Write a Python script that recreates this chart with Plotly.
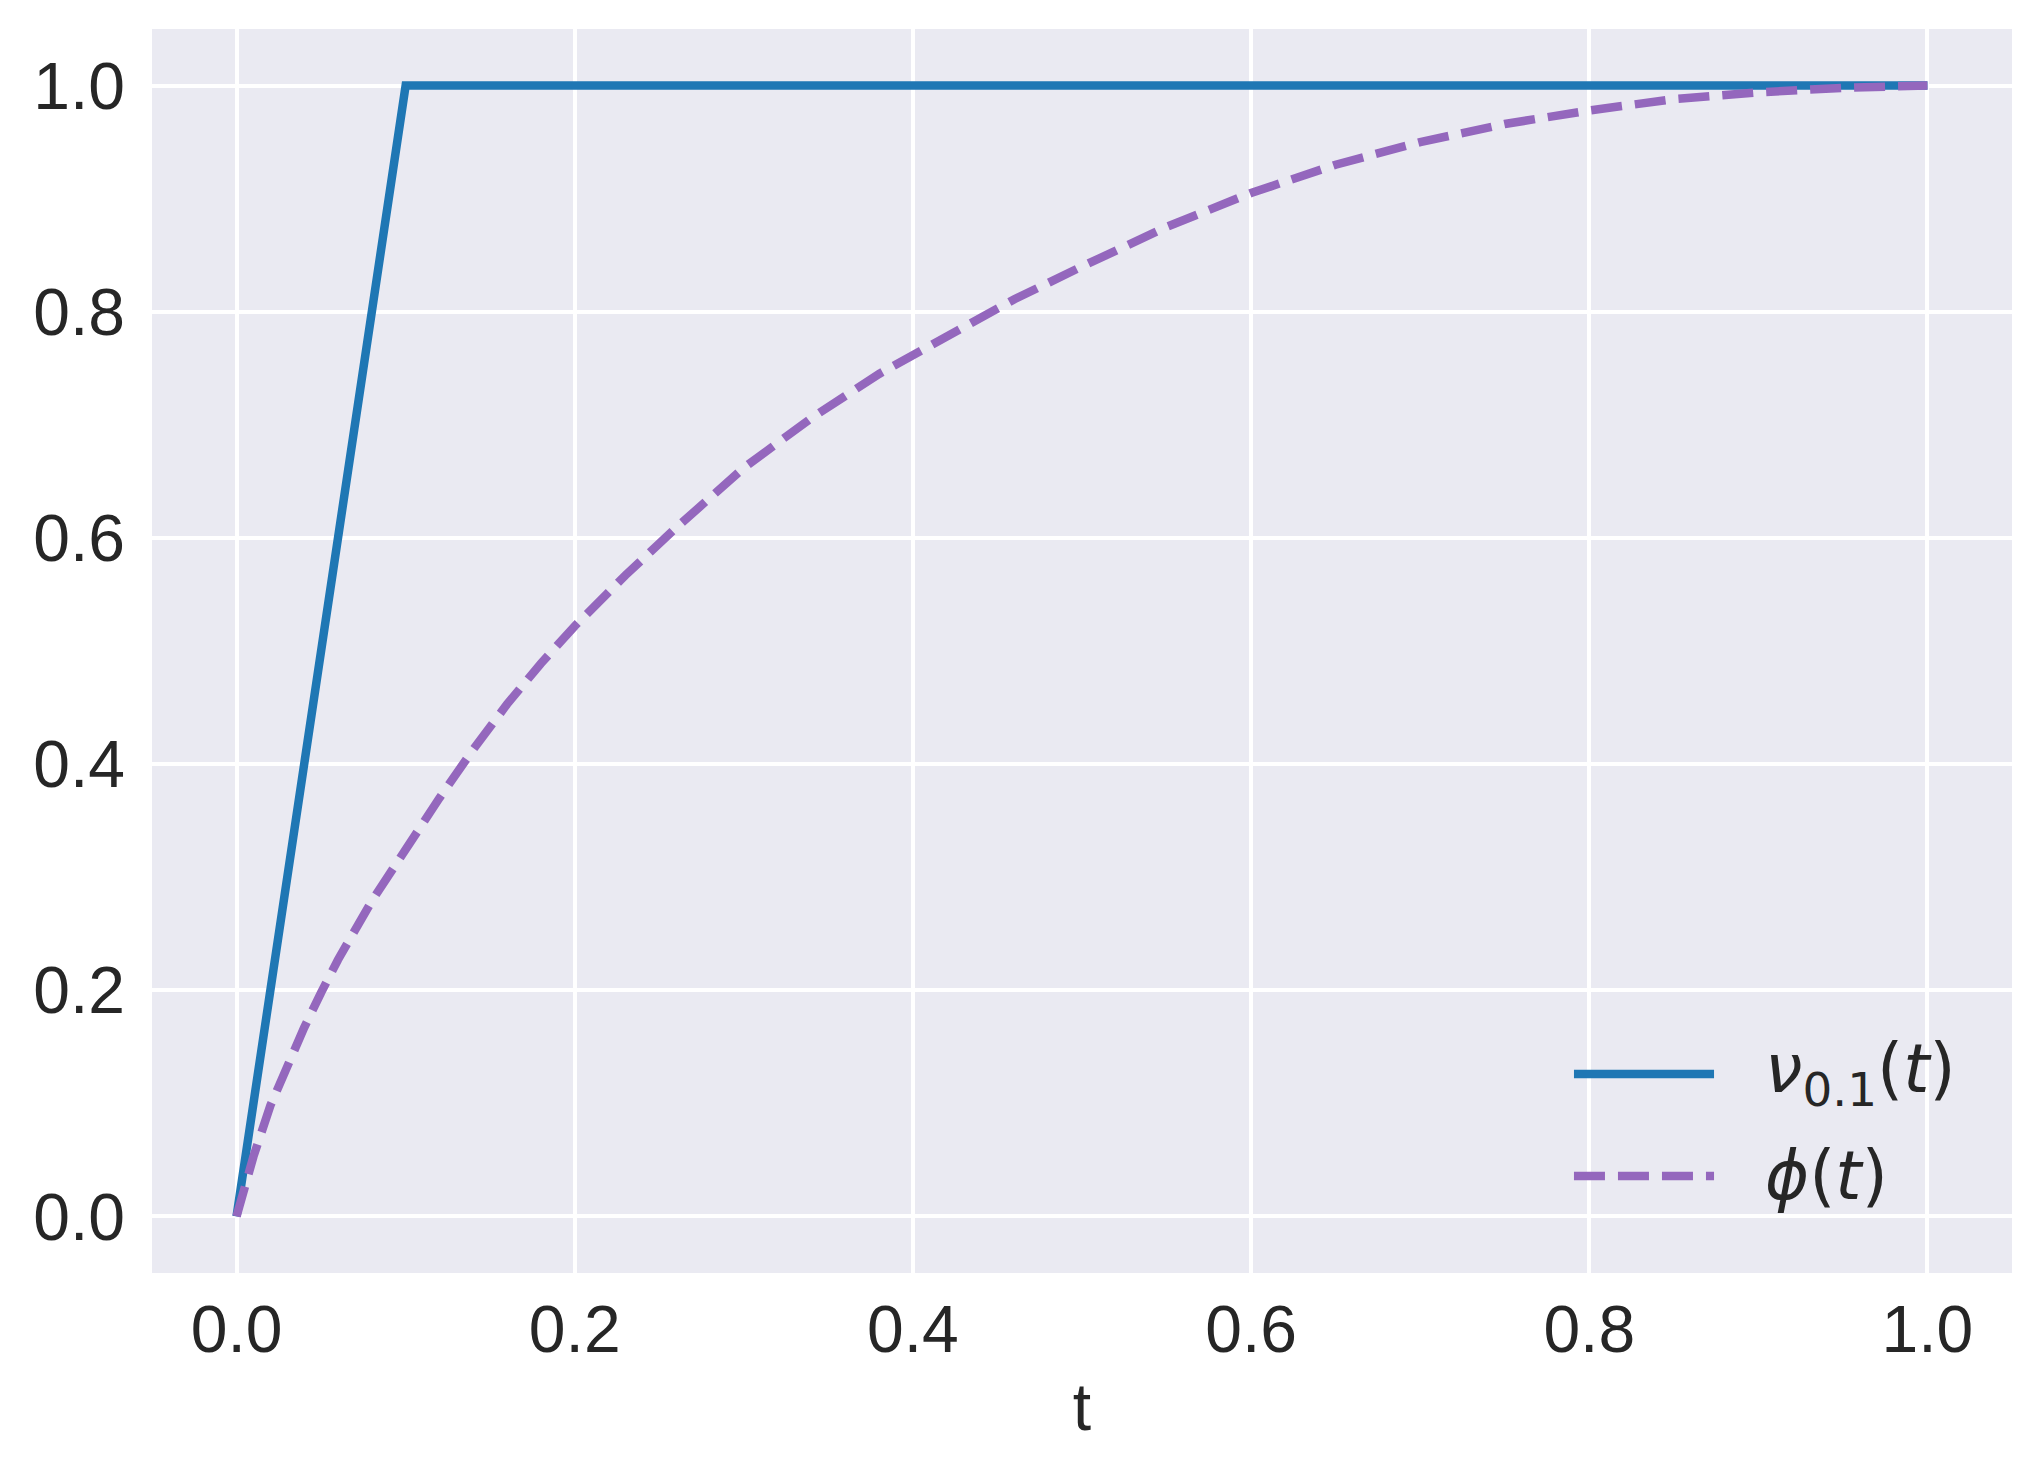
import plotly.graph_objects as go

# ---- data ----
t_nu = [0.0, 0.1, 1.0]
nu_vals = [0.0, 1.0, 1.0]

t_phi = [0.0, 0.005, 0.01, 0.02, 0.03, 0.04, 0.05, 0.06, 0.08, 0.10, 0.12, 0.14,
         0.16, 0.18, 0.20, 0.23, 0.26, 0.30, 0.34, 0.38, 0.42, 0.46, 0.50, 0.55,
         0.60, 0.65, 0.70, 0.75, 0.80, 0.85, 0.90, 0.95, 1.00]
phi_vals = [0.0, 0.029, 0.053, 0.098, 0.133, 0.167, 0.198, 0.227, 0.279, 0.326, 0.370, 0.413,
            0.453, 0.489, 0.522, 0.567, 0.609, 0.662, 0.706, 0.745, 0.779, 0.811, 0.840, 0.875,
            0.905, 0.930, 0.950, 0.966, 0.978, 0.988, 0.994, 0.998, 1.000]

tick_vals = [0.0, 0.2, 0.4, 0.6, 0.8, 1.0]
tick_text = ["0.0", "0.2", "0.4", "0.6", "0.8", "1.0"]

series_names = ["<i>ν</i><sub>0.1</sub>(<i>t</i>)", "<i>ϕ</i>(<i>t</i>)"]
BLUE = "#1f77b4"
PURPLE = "#9467bd"
DASH = "31px,13px"

fig = go.Figure()
fig.add_trace(go.Scatter(x=t_nu, y=nu_vals, mode="lines", name=series_names[0],
                         line=dict(color=BLUE, width=8.5), showlegend=False))
fig.add_trace(go.Scatter(x=t_phi, y=phi_vals, mode="lines", name=series_names[1],
                         line=dict(color=PURPLE, width=8.5, dash=DASH),
                         showlegend=False))

# manual legend (matplotlib-like long line samples)
leg = [(0.16, BLUE, "solid", series_names[0]), (0.078, PURPLE, DASH, series_names[1])]
for yy, col, dash, label in leg:
    fig.add_shape(type="line", xref="paper", yref="paper", x0=0.7645, x1=0.8398, y0=yy, y1=yy,
                  line=dict(color=col, width=8.5, dash=dash))
    fig.add_annotation(xref="paper", yref="paper", x=0.866, y=yy, text=label, showarrow=False,
                       xanchor="left", yanchor="middle",
                       font=dict(family="DejaVu Sans", size=67, color="#262626"))

FONT = dict(family="Liberation Sans, Arial", size=66, color="#262626")
axis_common = dict(
    showgrid=True, gridcolor="white", gridwidth=4, zeroline=False, automargin=False,
    showline=False, ticks="", tickfont=FONT,
    tickvals=tick_vals, ticktext=tick_text,
)
fig.update_xaxes(range=[-0.05, 1.05], ticklabelstandoff=12,
                 title=dict(text="t", font=FONT, standoff=18),
                 **axis_common)
fig.update_yaxes(range=[-0.05, 1.05], ticklabelstandoff=26, **axis_common)

# the page body adds an 8px offset; size/margins compensate for it
fig.update_layout(
    width=2033, height=1467,
    margin=dict(l=144, r=29, t=21, b=202),
    plot_bgcolor="#EAEAF2", paper_bgcolor="white",
    showlegend=False,
)
fig.write_html("out.html")
